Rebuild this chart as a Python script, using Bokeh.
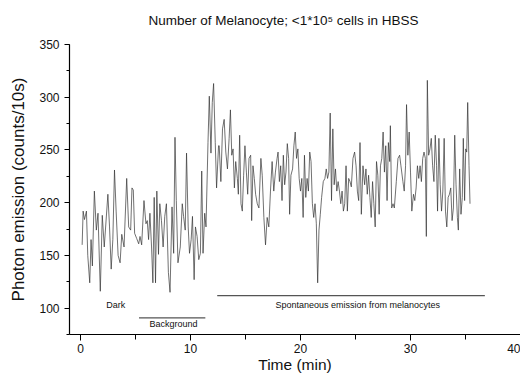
from bokeh.plotting import figure
from bokeh.models import Range1d, SingleIntervalTicker, Label, ColumnDataSource, Title
from bokeh.embed import file_html
from bokeh.resources import INLINE

TITLE = "Number of Melanocyte; <1*10\u2075 cells in HBSS"
X_LABEL = "Time (min)"
Y_LABEL = "Photon emission (counts/10s)"

time_min = [
    0.15, 0.24, 0.36, 0.54, 0.66, 0.84, 0.96, 1.08, 1.26, 1.44,
    1.59, 1.80, 1.98, 2.16, 2.49, 2.64, 2.79, 2.94, 3.09, 3.24,
    3.42, 3.60, 3.75, 3.96, 4.20, 4.38, 4.56, 4.68, 4.80, 4.92,
    5.11, 5.29, 5.41, 5.56, 5.77, 5.95, 6.07, 6.19, 6.31, 6.46,
    6.58, 6.70, 6.82, 6.94, 7.09, 7.21, 7.36, 7.51, 7.66, 7.81,
    7.99, 8.14, 8.32, 8.47, 8.59, 8.71, 8.86, 9.07, 9.25, 9.37,
    9.52, 9.64, 9.79, 9.91, 10.06, 10.18, 10.33, 10.45, 10.60, 10.75,
    10.90, 11.02, 11.14, 11.29, 11.41, 11.59, 11.71, 11.86, 11.98, 12.10,
    12.25, 12.37, 12.55,
    12.61, 12.76, 12.91, 13.06, 13.21, 13.36, 13.51, 13.63, 13.75, 13.87,
    13.99, 14.11, 14.26, 14.35, 14.47, 14.59, 14.71, 14.83, 14.95, 15.08,
    15.20, 15.32, 15.47, 15.56, 15.68, 15.80, 15.92, 16.07, 16.22, 16.40,
    16.52, 16.67, 16.82, 16.97, 17.12, 17.27, 17.42, 17.57, 17.72, 17.87,
    17.96, 18.08, 18.20, 18.32, 18.44, 18.56, 18.68, 18.80, 18.92, 19.01,
    19.13, 19.28, 19.40, 19.52, 19.64, 19.76, 19.88, 20.00, 20.12, 20.24,
    20.36, 20.48, 20.60, 20.72, 20.84, 20.96, 21.08, 21.20, 21.32, 21.44,
    21.56, 21.68, 21.80, 21.92, 22.07, 22.22, 22.34, 22.46, 22.58, 22.70,
    22.82, 22.94, 23.06, 23.18, 23.30, 23.42, 23.54, 23.66, 23.78, 23.90,
    24.02, 24.14, 24.26, 24.38, 24.50, 24.62, 24.77, 24.92, 25.05, 25.17,
    25.29, 25.41, 25.53, 25.68, 25.83, 25.95, 26.07, 26.19, 26.31, 26.43,
    26.55, 26.67, 26.79, 26.91, 27.03, 27.15, 27.27, 27.39, 27.51, 27.63,
    27.75, 27.87, 27.99, 28.11, 28.17, 28.29, 28.41, 28.53, 28.71, 28.86,
    29.01, 29.13, 29.31, 29.43, 29.55, 29.64, 29.76, 29.88, 30.00, 30.12,
    30.27, 30.39, 30.51, 30.63, 30.75, 30.87, 30.99, 31.11, 31.23, 31.35,
    31.44, 31.53, 31.65, 31.77, 31.89, 32.01, 32.13, 32.25, 32.37, 32.46,
    32.58, 32.70, 32.82, 32.94, 33.06, 33.18, 33.30, 33.42, 33.54, 33.66,
    33.78, 33.90, 34.02, 34.14, 34.26, 34.35, 34.47, 34.59, 34.71, 34.80,
    34.92, 35.02, 35.11, 35.20, 35.32, 35.41,
]

counts = [
    160, 192, 184, 192, 150, 124, 165, 140, 211, 174,
    190, 116, 188, 158, 208, 177, 137, 165, 231, 192,
    150, 143, 170, 158, 223, 177, 174, 214, 212, 171,
    166, 161, 168, 160, 202, 180, 183, 165, 190, 158,
    124, 205, 124, 211, 151, 199, 183, 158, 187, 199,
    134, 115, 196, 152, 262, 202, 143, 158, 199, 187,
    174, 247, 177, 152, 165, 187, 127, 177, 168, 146,
    152, 230, 152, 190, 177, 257, 301, 247, 295, 313,
    257, 214, 254,
    254, 220, 270, 279, 248, 232, 261, 288, 245, 251,
    214, 239, 223, 208, 264, 199, 192, 226, 254, 229,
    208, 242, 245, 183, 235, 223, 208, 199, 195, 242,
    226, 186, 160, 186, 177, 211, 239, 211, 229, 242,
    248, 220, 235, 202, 245, 217, 229, 256, 242, 189,
    226, 232, 254, 267, 242, 251, 223, 211, 223, 186,
    245, 205, 223, 211, 248, 239, 199, 186, 199, 180,
    124, 174, 189, 205, 220, 223, 232, 223, 229, 285,
    202, 270, 217, 232, 211, 220, 211, 199, 211, 192,
    199, 235, 192, 223, 220, 215, 242, 248, 235, 211,
    202, 257, 189, 235, 217, 232, 208, 226, 205, 186,
    220, 199, 177, 239, 226, 189, 235, 242, 267, 229,
    254, 202, 257, 239, 273, 195, 199, 195, 220, 242,
    245, 235, 220, 211, 235, 293, 245, 267, 229, 192,
    208, 202, 214, 235, 223, 235, 220, 242, 248, 242,
    168, 316, 245, 251, 261, 235, 220, 264, 235, 192,
    261, 217, 192, 211, 261, 192, 177, 205, 208, 214,
    183, 195, 264, 217, 186, 174, 232, 189, 205, 261,
    202, 251, 248, 295, 235, 199,
]

# Annotation segments (time range, level) and labels
segment_labels = ["Dark", "Background", "Spontaneous emission from melanocytes"]
background_span = (5.32, 11.35, 90.7)
spontaneous_span = (12.43, 36.76, 111.8)

FONT = "Liberation Sans"

p = figure(width=520, height=375, output_backend="svg", toolbar_location=None,
           x_range=Range1d(-1, 40), y_range=Range1d(75, 350),
           min_border_left=69, min_border_right=0, min_border_top=44,
           min_border_bottom=40)

src = ColumnDataSource(dict(t=time_min, c=counts))
p.line("t", "c", source=src, line_color="#333333", line_width=0.7)

p.segment(x0=[background_span[0], spontaneous_span[0]],
          x1=[background_span[1], spontaneous_span[1]],
          y0=[background_span[2], spontaneous_span[2]],
          y1=[background_span[2], spontaneous_span[2]],
          line_color="#555555", line_width=1.2)

for txt, x, y in [(segment_labels[0], 3.2, 103.4),
                  (segment_labels[1], 8.45, 84.5),
                  (segment_labels[2], 25.2, 103.0)]:
    p.add_layout(Label(x=x, y=y, text=txt, text_font=FONT, text_font_size="9px",
                       text_align="center", text_baseline="middle",
                       text_color="#111111"))

p.title.text = TITLE
p.title.text_font = FONT
p.title.text_font_size = "13.5px"
p.title.text_font_style = "normal"
p.title.align = "left"
p.title.offset = 79
p.title.standoff = 0
p.title.text_color = "#111111"

# spacer between title and frame
p.add_layout(Title(text=" ", text_font_size="13px", standoff=0), "above")

p.xgrid.visible = False
p.ygrid.visible = False
p.outline_line_color = None
p.background_fill_color = "white"
p.border_fill_color = "white"

p.xaxis.ticker = SingleIntervalTicker(interval=10, num_minor_ticks=2)
p.yaxis.ticker = SingleIntervalTicker(interval=50, num_minor_ticks=2)

for ax in (p.xaxis[0], p.yaxis[0]):
    ax.axis_line_color = "black"
    ax.axis_line_width = 1.2
    ax.major_tick_line_color = "black"
    ax.minor_tick_line_color = "black"
    ax.major_tick_in = 0
    ax.minor_tick_in = 0
    ax.major_label_text_font = FONT
    ax.major_label_text_font_size = "12px"
    ax.major_label_text_color = "#111111"
    ax.axis_label_text_font = FONT
    ax.axis_label_text_font_style = "normal"
    ax.axis_label_text_color = "#111111"

p.xaxis.axis_label = X_LABEL
p.yaxis.axis_label = Y_LABEL
p.xaxis.axis_label_text_font_size = "15.5px"
p.yaxis.axis_label_text_font_size = "17px"
p.xaxis.major_tick_out = 6
p.xaxis.minor_tick_out = 5
p.yaxis.major_tick_out = 5
p.yaxis.minor_tick_out = 3
p.xaxis.major_label_standoff = 3
p.xaxis.axis_label_standoff = 0
p.yaxis.major_label_standoff = 5
p.yaxis.axis_label_standoff = 8

open("out.html", "w").write(file_html(p, INLINE))
